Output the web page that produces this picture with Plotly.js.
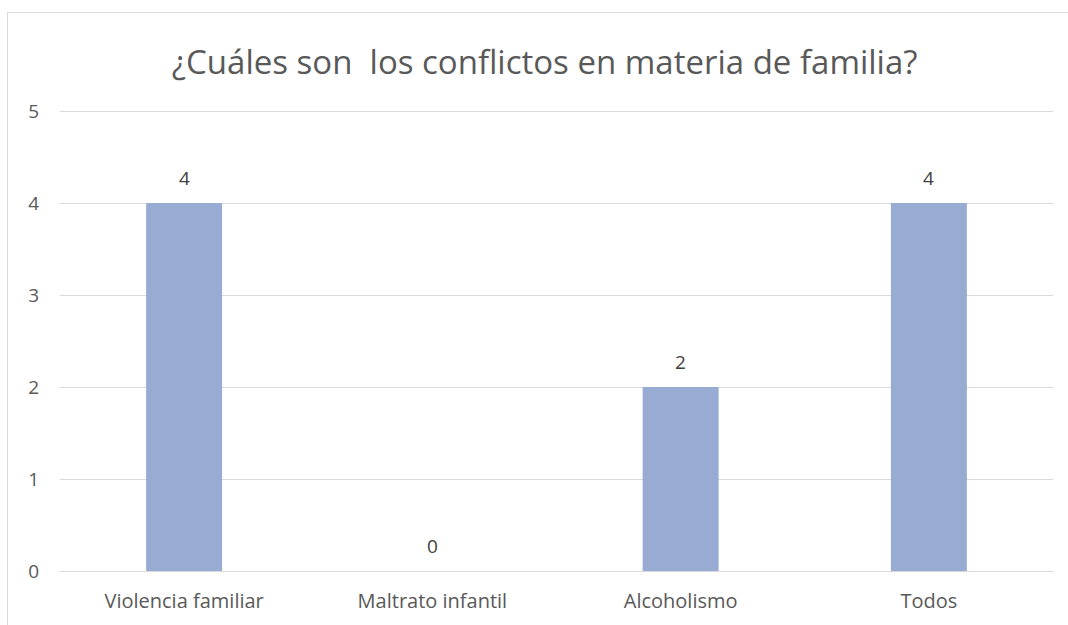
<!DOCTYPE html>
<html>
<head>
<meta charset="utf-8">
<script src="https://cdn.plot.ly/plotly-3.0.1.min.js"></script>
<style>
html,body{margin:0;padding:0;background:#fff;overflow:hidden;}
#frame{position:absolute;left:7px;top:12px;width:1200px;height:700px;border-left:1px solid #d9d9d9;border-top:1px solid #d9d9d9;}
#chart{position:absolute;left:0;top:0;width:1068px;height:625px;}
</style>
</head>
<body>
<div id="frame"></div>
<div id="chart"></div>
<script>
const categories = ["Violencia familiar", "Maltrato infantil", "Alcoholismo", "Todos"];
const values = [4, 0, 2, 4];
const yTicks = [0, 1, 2, 3, 4, 5];
const chartTitle = "¿Cuáles son \u00a0los conflictos en materia de familia?";

const font = "'Open Sans', 'Liberation Sans', sans-serif";
const grey = "#595959";

const trace = {
  type: "bar",
  x: categories,
  y: values,
  marker: {color: "#97abd3"},
  hoverinfo: "x+y"
};

const annotations = categories.map((c, i) => ({
  x: c, y: values[i], xref: "x", yref: "y",
  text: String(values[i]), showarrow: false,
  yshift: 25, font: {family: font, size: 19, color: "#404040"}
}));

const layout = {
  width: 1068, height: 625,
  margin: {l: 60, r: 15, t: 108, b: 54, pad: 0},
  paper_bgcolor: "rgba(0,0,0,0)",
  plot_bgcolor: "rgba(0,0,0,0)",
  title: {text: chartTitle, x: 0.51, xanchor: "center", y: 0.9, yref: "container", yanchor: "middle",
          font: {family: font, size: 33, color: grey}},
  bargap: 0.694,
  showlegend: false,
  xaxis: {type: "category", range: [-0.5, 3.5], showgrid: false, zeroline: false,
          showline: false, ticks: "", ticklabelstandoff: 16,
          tickfont: {family: font, size: 20, color: grey}, fixedrange: true},
  yaxis: {range: [0, 5.033], tickvals: yTicks, ticktext: yTicks.map(String),
          showgrid: true, gridcolor: "#d9d9d9", gridwidth: 1,
          zeroline: true, zerolinecolor: "#d9d9d9", zerolinewidth: 1,
          showline: false, ticks: "", ticklabelstandoff: 20,
          tickfont: {family: font, size: 19, color: grey}, fixedrange: true},
  annotations: annotations
};

Plotly.newPlot("chart", [trace], layout, {displayModeBar: false, staticPlot: true});
</script>
</body>
</html>
